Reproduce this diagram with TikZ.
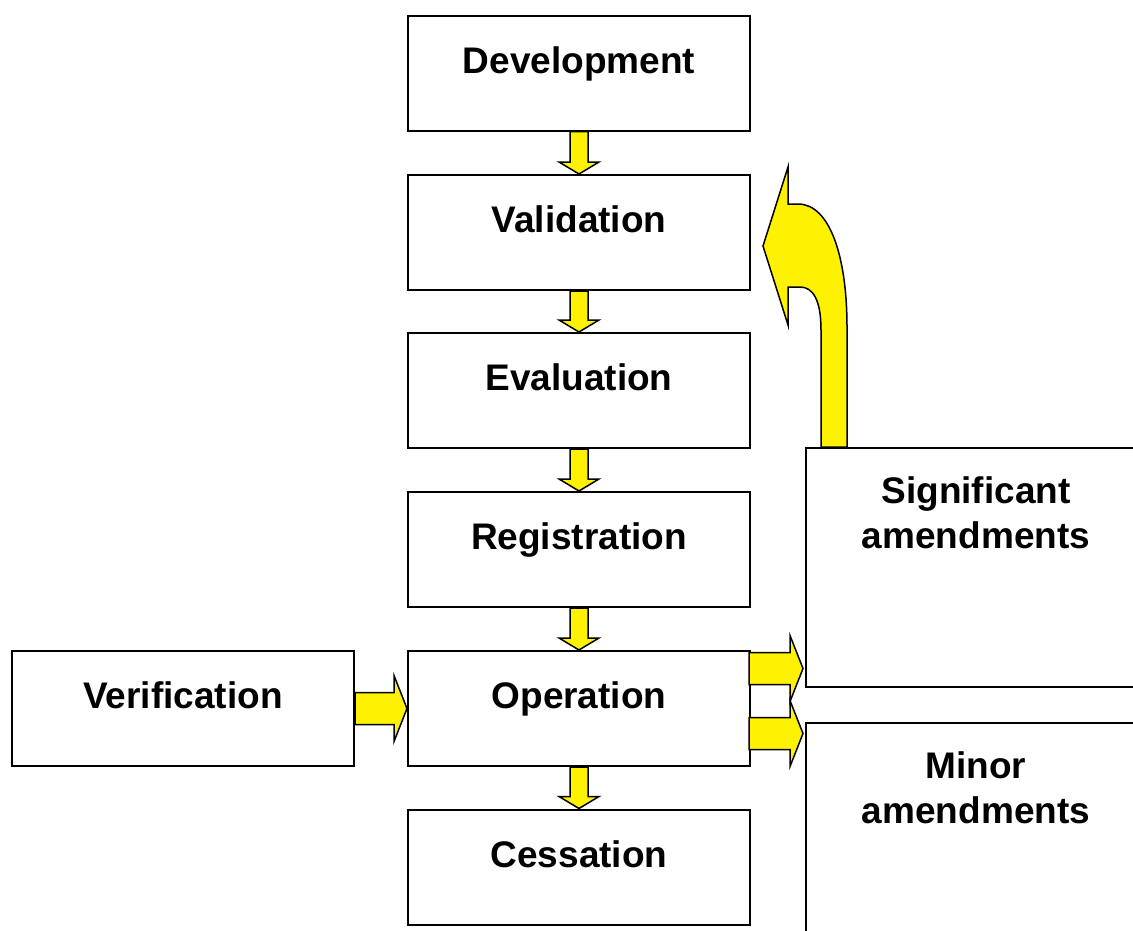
\documentclass[tikz,border=0pt]{standalone}
\usepackage{fontspec}
\setmainfont{Liberation Sans}
\usetikzlibrary{calc}
\newcommand\ydownarrow[2]{%
  \filldraw[yarr] ($(#1.south)+(-9,0)$) -- ($(#2.north)+(-9,-12)$) -- ($(#2.north)+(-20,-12)$) -- (#2.north)
    -- ($(#2.north)+(20,-12)$) -- ($(#2.north)+(9,-12)$) -- ($(#1.south)+(9,0)$) -- cycle;}
\newcommand\yrightarrow[2]{% #1 start coordinate, #2 tip coordinate
  \filldraw[yarr] ($(#1)+(0,-16)$) -- ($(#2)+(-13,-16)$) -- ($(#2)+(-13,-33)$) -- (#2)
    -- ($(#2)+(-13,33)$) -- ($(#2)+(-13,16)$) -- ($(#1)+(0,16)$) -- cycle;}
\begin{document}
\begin{tikzpicture}[x=1pt,y=-1pt,
  txt/.style={font=\bfseries\fontsize{37}{45}\selectfont},
  box/.style={txt,draw=black,line width=2pt,fill=white,minimum width=342pt,minimum height=115pt,
    inner sep=0pt,text height=27pt,text depth=27pt},
  rbox/.style={draw=black,line width=2pt,fill=white,minimum width=340pt,minimum height=239pt,
    inner sep=0pt,anchor=north west},
  lbl/.style={txt,align=center,inner sep=0pt,anchor=north,yshift=-29pt},
  yarr/.style={draw=black,line width=1.5pt,fill=yellow,line join=miter}]
\useasboundingbox (0,0) rectangle (1133,930);
\clip (0,0) rectangle (1133,930);
\fill[white] (0,0) rectangle (1133,930);

\node[box] (dev) at (579,73) {Development};
\node[box] (val) at (579,232.5) {Validation};
\node[box] (eva) at (579,390.5) {Evaluation};
\node[box] (reg) at (579,549.5) {Registration};
\node[box] (op)  at (579,708.5) {Operation};
\node[box] (ces) at (579,867) {Cessation};
\node[box] (ver) at (183,708.5) {Verification};

\node[rbox,label={[lbl]north:{Significant\\amendments}}] (sig) at (805,447) {};
\node[rbox,minimum height=245pt,label={[lbl]north:{Minor\\amendments}}] (min) at (805,722) {};

\ydownarrow{dev}{val}
\ydownarrow{val}{eva}
\ydownarrow{eva}{reg}
\ydownarrow{reg}{op}
\ydownarrow{op}{ces}

\yrightarrow{ver.east}{op.west}

\coordinate (u0) at ($(op.east)+(-2,-40)$);
\coordinate (u1) at ($(sig.west |- u0)+(-2,0)$);
\coordinate (l0) at ($(op.east)+(-2,25)$);
\coordinate (l1) at ($(min.west |- l0)+(-2,0)$);
\yrightarrow{u0}{u1}
\yrightarrow{l0}{l1}

\begin{scope}[shift={(sig.north west)}]
\filldraw[yarr] (16,0) -- (16,-117) .. controls (16,-147) and (8,-160) .. (-5,-160)
  -- (-17,-160) -- (-17,-122) -- (-42,-201) -- (-17,-280) -- (-17,-243) -- (-7,-243)
  .. controls (25,-243) and (42,-190) .. (42,-120) -- (42,0) -- cycle;
\end{scope}
\end{tikzpicture}
\end{document}
